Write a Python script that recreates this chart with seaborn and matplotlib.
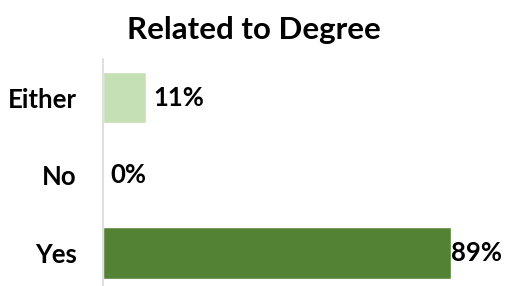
import pandas as pd
import matplotlib.pyplot as plt
import seaborn as sns

# dữ liệu
categories = ["Either", "No", "Yes"]
percents = [11, 0, 89]
bar_colors = ["#C5E0B4", "#C5E0B4", "#548235"]
label_pads = [5, 5, 0]

df = pd.DataFrame({"cat": categories, "pct": percents})

sns.set_style("white")
plt.rcParams["font.family"] = ["Lato", "DejaVu Sans"]

fig = plt.figure(figsize=(5.08, 2.86), dpi=100)
ax = fig.add_axes([103 / 508, -0.021, 391 / 508, 0.816])

sns.barplot(data=df, y="cat", x="pct", hue="cat", palette=bar_colors,
            orient="h", width=0.66, saturation=1, legend=False, ax=ax)

ax.set_xlim(0, 100)
ax.set_ylim(2.5, -0.5)
ax.set_xlabel("")
ax.set_ylabel("")
ax.set_xticks([])

for s in ["top", "right", "bottom"]:
    ax.spines[s].set_visible(False)
ax.spines["left"].set_color("#D9D9D9")
ax.spines["left"].set_linewidth(1.2)

ax.tick_params(axis="y", length=0, pad=19, labelcolor="black")
for t in ax.get_yticklabels():
    t.set_fontsize(18.5)
    t.set_fontweight("bold")

# nhãn giá trị
for i, (v, p) in enumerate(zip(percents, label_pads)):
    ax.annotate(f"{v}%", xy=(v, i), xytext=(p, 0), textcoords="offset points",
                ha="left", va="center", fontsize=18.5, fontweight="bold",
                color="black")

fig.text(0.5, 0.895, "Related to Degree", ha="center", va="center",
         fontsize=22.5, fontweight="bold", color="black")

fig.savefig("out.png", dpi=100)
